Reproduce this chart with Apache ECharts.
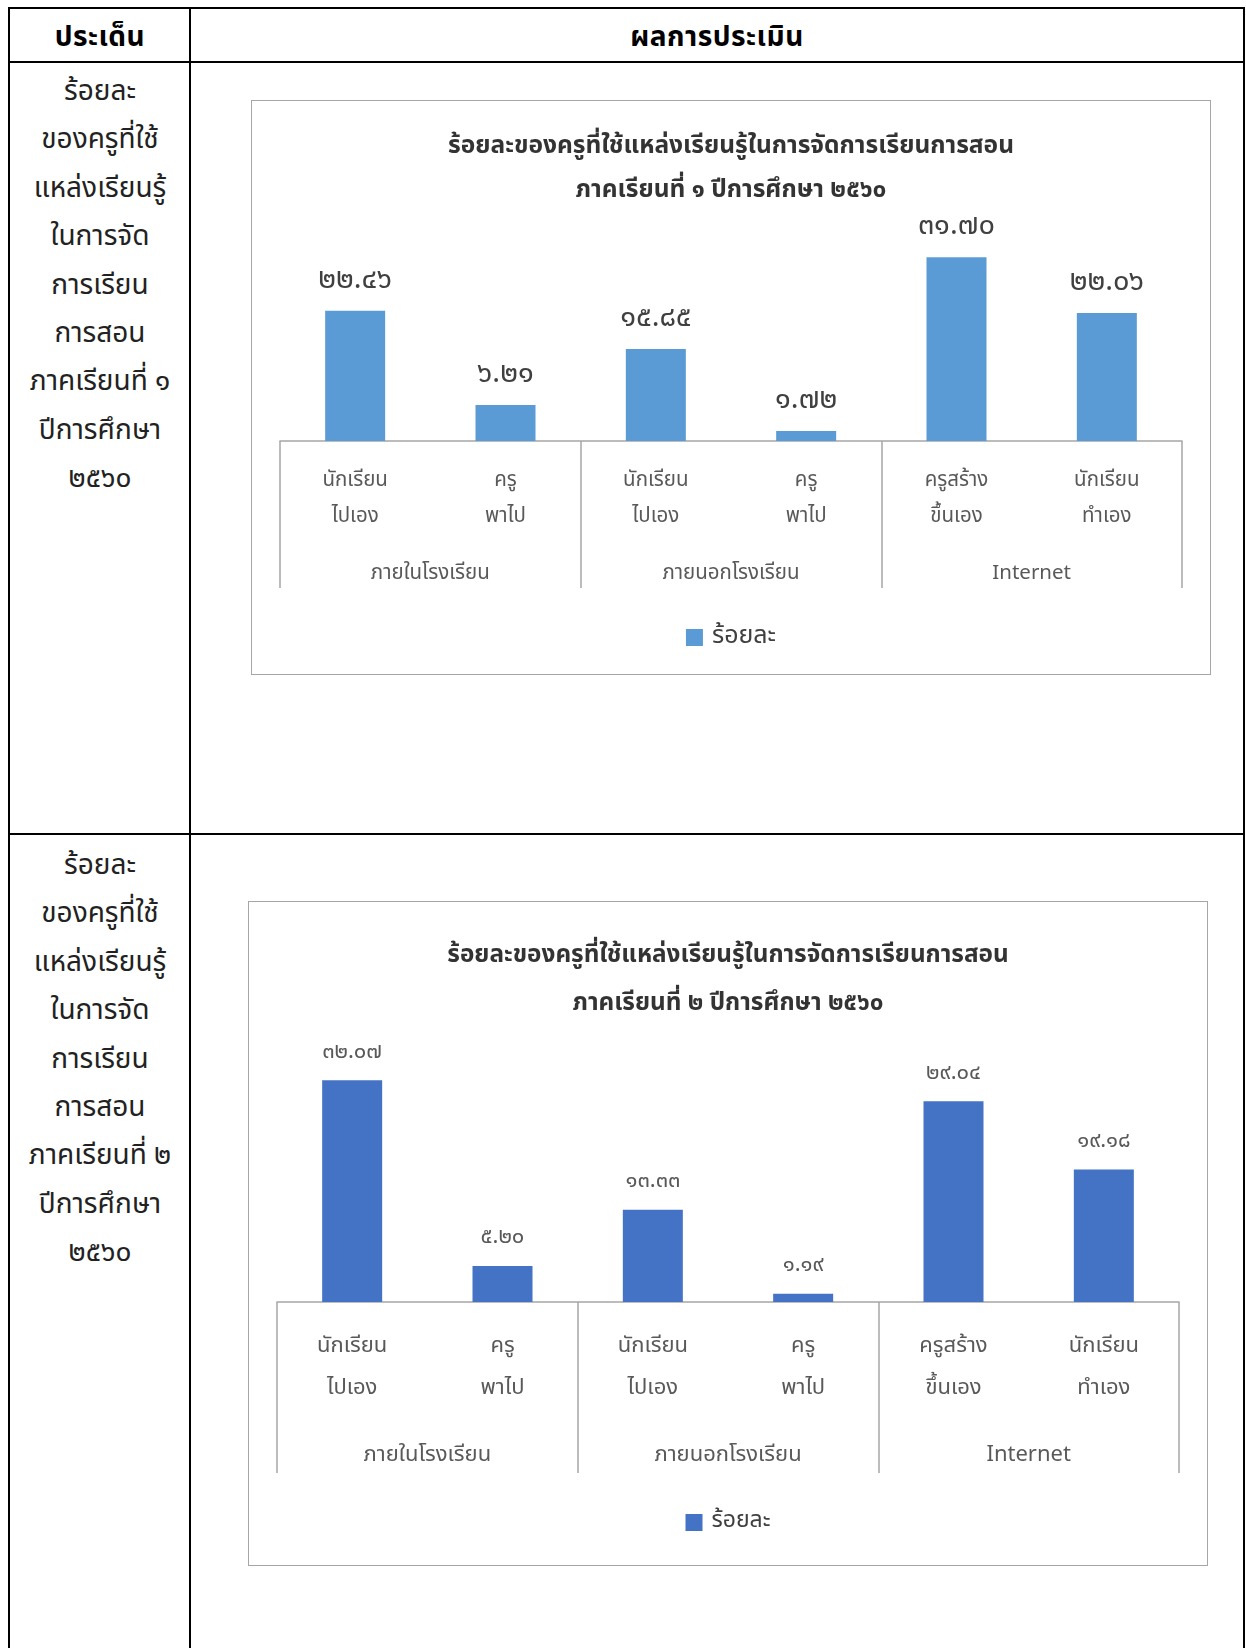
<!DOCTYPE html>
<html>
<head>
<meta charset="utf-8">
<script src="https://cdn.jsdelivr.net/npm/echarts@6/dist/echarts.min.js"></script>
<style>
  body { margin: 0; background: #fff; }
  #page { position: relative; width: 1246px; height: 1648px; overflow: hidden;
          font-family: "Noto Sans Thai", "Noto Sans", sans-serif; color: #000; }
  .ln { position: absolute; background: #000; }
  .hd { position: absolute; top: 15px; height: 46px; line-height: 46px; text-align: center;
        font-size: 28px; font-weight: bold; letter-spacing: 0.5px; }
  .side { position: absolute; left: 10px; width: 180px; text-align: center;
          font-size: 28px; line-height: 48.4px; color: #222; }
  .box { position: absolute; width: 960px; border: 1.5px solid #a6a6a6; box-sizing: border-box; }
</style>
</head>
<body>
<div id="page">
  <div class="ln" style="left:8px;top:7px;width:1237px;height:2px"></div>
  <div class="ln" style="left:8px;top:61px;width:1237px;height:2px"></div>
  <div class="ln" style="left:8px;top:833px;width:1237px;height:2px"></div>
  <div class="ln" style="left:8px;top:7px;width:2px;height:1641px"></div>
  <div class="ln" style="left:189px;top:7px;width:2px;height:1641px"></div>
  <div class="ln" style="left:1243px;top:7px;width:2px;height:1641px"></div>

  <div class="hd" style="left:10px;width:180px">ประเด็น</div>
  <div class="hd" style="left:191px;width:1052px">ผลการประเมิน</div>

  <div class="side" style="top:68px">ร้อยละ<br>ของครูที่ใช้<br>แหล่งเรียนรู้<br>ในการจัด<br>การเรียน<br>การสอน<br>ภาคเรียนที่ ๑<br>ปีการศึกษา<br>๒๕๖๐</div>
  <div class="side" style="top:842px">ร้อยละ<br>ของครูที่ใช้<br>แหล่งเรียนรู้<br>ในการจัด<br>การเรียน<br>การสอน<br>ภาคเรียนที่ ๒<br>ปีการศึกษา<br>๒๕๖๐</div>

  <div id="chart1" class="box" style="left:251px;top:100px;height:575px"></div>
  <div id="chart2" class="box" style="left:248px;top:901px;height:665px"></div>
</div>

<script>
// หมวดย่อย (แกน x ชั้นใน)
const subCats = ['นักเรียน\nไปเอง', 'ครู\nพาไป', 'นักเรียน\nไปเอง', 'ครู\nพาไป', 'ครูสร้าง\nขึ้นเอง', 'นักเรียน\nทำเอง'];
// หมวดหลัก (แกน x ชั้นนอก)
const groupCats = ['ภายในโรงเรียน', 'ภายนอกโรงเรียน', 'Internet'];
// ภาคเรียนที่ 1
const term1 = [22.46, 6.21, 15.85, 1.72, 31.70, 22.06];
// ภาคเรียนที่ 2
const term2 = [32.07, 5.20, 13.33, 1.19, 29.04, 19.18];

const title1 = 'ร้อยละของครูที่ใช้แหล่งเรียนรู้ในการจัดการเรียนการสอน\nภาคเรียนที่ ๑ ปีการศึกษา ๒๕๖๐';
const title2 = 'ร้อยละของครูที่ใช้แหล่งเรียนรู้ในการจัดการเรียนการสอน\nภาคเรียนที่ ๒ ปีการศึกษา ๒๕๖๐';

const FONT = '"Noto Sans Thai", "Noto Sans", sans-serif';

function thaiNum(v){
    const d = '๐๑๒๓๔๕๖๗๘๙';
    return v.toFixed(2).replace(/[0-9]/g, c => d[+c]);
}

function makeOption(cfg){
    return {
        animation: false,
        textStyle: { fontFamily: FONT },
        title: {
            text: cfg.title,
            left: 'center',
            top: cfg.titleTop,
            textStyle: { fontSize: cfg.titleSize, fontWeight: 'bold', color: '#333', lineHeight: cfg.titleLH, fontFamily: FONT }
        },
        legend: {
            data: ['ร้อยละ'],
            left: 'center',
            top: cfg.legendTop,
            itemWidth: 17, itemHeight: 17, itemGap: 6,
            icon: 'rect',
            textStyle: { fontSize: cfg.legendSize, color: '#404040', fontFamily: FONT, padding: [0, 0, 0, 4] }
        },
        grid: { left: 28, right: 28, top: cfg.gridTop, bottom: cfg.gridBottom },
        xAxis: [
            {
                type: 'category',
                data: subCats,
                axisLine: { show: true, lineStyle: { color: '#a6a6a6', width: 1.5 } },
                axisTick: { show: false },
                axisLabel: { interval: 0, margin: cfg.subMargin, fontSize: cfg.subSize, lineHeight: cfg.subLH, color: '#595959', fontFamily: FONT }
            },
            {
                type: 'category',
                data: groupCats,
                position: 'bottom',
                axisLine: { show: false },
                axisTick: { show: true, length: cfg.sepLen, lineStyle: { color: '#a6a6a6', width: 1.5 } },
                axisLabel: { interval: 0, margin: cfg.groupMargin, fontSize: cfg.subSize, color: '#595959', fontFamily: FONT }
            }
        ],
        yAxis: { type: 'value', min: 0, max: 35, show: false, splitLine: { show: false } },
        series: [{
            name: 'ร้อยละ',
            type: 'bar',
            xAxisIndex: 0,
            data: cfg.data,
            barWidth: 60,
            itemStyle: { color: cfg.color },
            label: {
                show: true, position: 'top', distance: cfg.labelDist,
                fontSize: cfg.labelSize, color: cfg.labelColor, fontFamily: FONT,
                formatter: p => thaiNum(p.value)
            }
        }]
    };
}

const chart1 = echarts.init(document.getElementById('chart1'));
chart1.setOption(makeOption({
    title: title1, titleTop: 20, titleSize: 24.5, titleLH: 44,
    legendTop: 519, legendSize: 25,
    gridTop: 137, gridBottom: 233,
    subMargin: 23, subSize: 20.5, subLH: 36,
    groupMargin: 123, sepLen: 147,
    data: term1, color: '#5b9bd5',
    labelDist: 14, labelSize: 29, labelColor: '#404040'
}));

const chart2 = echarts.init(document.getElementById('chart2'));
chart2.setOption(makeOption({
    title: title2, titleTop: 26, titleSize: 24.3, titleLH: 48,
    legendTop: 604, legendSize: 23,
    gridTop: 158, gridBottom: 263,
    subMargin: 25, subSize: 22, subLH: 42,
    groupMargin: 144, sepLen: 171,
    data: term2, color: '#4472c4',
    labelDist: 16, labelSize: 22, labelColor: '#595959'
}));
</script>
</body>
</html>
